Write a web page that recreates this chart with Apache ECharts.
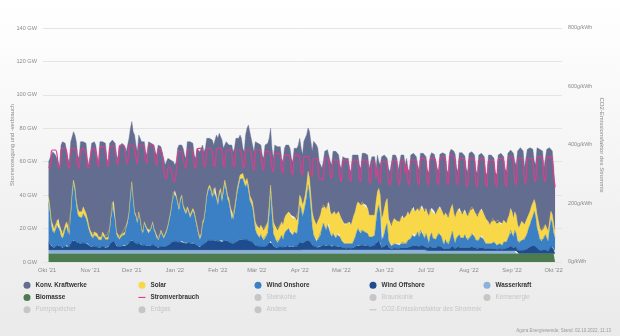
<!DOCTYPE html>
<html><head><meta charset="utf-8">
<script src="https://cdn.jsdelivr.net/npm/echarts@6/dist/echarts.min.js"></script>
<style>
html,body{margin:0;padding:0;}
body{width:620px;height:336px;background:linear-gradient(180deg,#ffffff 0%,#f4f4f4 50%,#eaeaea 100%);overflow:hidden;}
#c{width:620px;height:336px;}
</style>
</head><body><div id="c"></div>
<script>
// daily values (GW), 2 Oct 2021 .. 2 Oct 2022, one row per week (Sat..Fri)
const biomasse = [
5,5,5,5,5,5,5, 5,5,5,5,5,5,5, 5,5,5,5,5,5,5, 5,5,5,5,5,5,5,
5,5,5,5,5,5,5, 5,5,5,5,5,5,5, 5,5,5,5,5,5,5, 5,5,5,5,5,5,5,
5,5,5,5,5,5,5, 5,5,5,5,5,5,5, 5,5,5,5,5,5,5, 5,5,5,5,5,5,5,
5,5,5,5,5,5,5, 5,5,5,5,5,5,5, 5,5,5,5,5,5,5, 5,5,5,5,5,5,5,
5,5,5,5,5,5,5, 5,5,5,5,5,5,5, 5,5,5,5,5,5,5, 5,5,5,5,5,5,5,
5,5,5,5,5,5,5, 5,5,5,5,5,5,5, 5,5,5,5,5,5,5, 5,5,5,5,5,5,5,
5,5,5,5,5,5,5, 5,5,5,5,5,5,5, 5,5,5,5,5,5,5, 5,5,5,5,5,5,5,
5,5,5,5,5,5,5, 5,5,5,5,5,5,5, 5,5,5,5,5,5,5, 5,5,5,5,5,5,5,
5,5,5,5,5,5,5, 5,5,5,5,5,5,5, 5,5,5,5,5,5,5, 5,5,5,5,5,5,5,
5,5,5,5,5,5,5, 5,5,5,5,5,5,5, 5,5,5,5,5,5,5, 5,5,5,5,5,5,5,
5,5,5,5,5,5,5, 5,5,5,5,5,5,5, 5,5,5,5,5,5,5, 5,5,5,5,5,5,5,
5,5,5,5,5,5,5, 5,5,5,5,5,5,5, 5,5,5,5,5,5,5, 5,5,5,5,5,5,5,
5,5,5,5,5,5,5, 5,5,5,5,5,5,5, 5,5,5,5,5,5,5, 5,5,5,5,5,5,5,
5,5
];
const wasserkraft = [
2,2,2,2,2,2,2, 2,2,2,2,2,2,2, 2,2,2,2,2,2,2, 2,2,2,2,2,2,2,
2,2,2,2,2,2,2, 2,2,2,2,2,2,2, 2,2,2,2,2,2,2, 2,2,2,2,2,2,2,
2,2,2,2,2,2,2, 2,2,2,2,2,2,2, 2,2,2,2,2,2,2, 2,2,2,2,2,2,2,
2,2,2,2,2,2,2, 2,2,2,2,2,2,2, 2,2,2,2,2,2,2, 2,2,2,2,2,2,2,
2,2,2,2,2,2,2, 2,2,2,2,2,2,2, 2,2,2,2,2,2,2, 2,2,2,2,2,2,2,
2,2,2,2,2,2,2, 2,2,2,2,2,2,2, 2,2,2,2,2,2,2, 2,2,2,2,2,2,2,
2,2,2,2,2,2,2, 2,2,2,2,2,2,2,
2.2,2.2,2.2,2.2,2.2,2.2,2.2, 2.2,2.2,2.2,2.2,2.2,2.2,2.2, 2.2,2.2,2.2,2.2,2.2,2.2,2.2,
2.2,2.2,2.2,2.2,2.2,2.2,2.2, 2.2,2.2,2.2,2.2,2.2,2.2,2.2, 2.2,2.2,2.2,2.2,2.2,2.2,2.2,
2.2,2.2,2.2,2.2,2.2,2.2,2.2, 2.2,2.2,2.2,2.2,2.2,2.2,2.2, 2.2,2.2,2.2,2.2,2.2,2.2,2.2,
2.2,2.2,2.2,2.2,2.2,2.2,2.2, 2.2,2.2,2.2,2.2,2.2,2.2,2.2, 2.2,2.2,2.2,2.2,2.2,2.2,2.2,
2.2,2.2,2.2,2.2,2.2,2.2,2.2,
1.6,1.6,1.6,1.6,1.6,1.6,1.6, 1.6,1.6,1.6,1.6,1.6,1.6,1.6, 1.6,1.6,1.6,1.6,1.6,1.6,1.6,
1.6,1.6,1.6,1.6,1.6,1.6,1.6, 1.6,1.6,1.6,1.6,1.6,1.6,1.6, 1.6,1.6,1.6,1.6,1.6,1.6,1.6,
1.6,1.6,1.6,1.6,1.6,1.6,1.6, 1.6,1.6,1.6,1.6,1.6,1.6,1.6, 1.6,1.6,1.6,1.6,1.6,1.6,1.6,
1.6,1.6
];
const windOffshore = [
5,4,2.5,2,1.5,2,3,
3,2.5,2,1.5,2,2.5,3,
2,2,4,5.5,6,5.5,5,
4.5,4,4,4,4.5,4,4,
4,3,2.5,2,2,2.5,2,
2,1.5,1.5,2,2.5,2,1.5,
2,2,3,4.5,5.5,5.5,4,
2.5,2,2,2,2.5,3,2.5,
3,3.5,4.5,5.5,6,5.5,4.5,
4,3.5,4.5,4,3,2.5,3.5,
3,2.5,2.5,2.5,3,3.5,3,
2.5,2,1.5,2,2.5,2,2,
2,2.5,3,3.5,4,5,5.5,
5.5,5,5,4.5,5,5.5,4.5,
4.5,4,4.5,4.5,4,4,4.5,
4,3.5,3,2.5,2,2.5,3.5,
3.5,4.5,5.5,6,6,6,5.5,
6,6,5.5,5,5.5,6,5,
5.5,6,6,5.5,5,4.5,4,
4,4.5,5,5.5,6,6.5,6.5,
6.5,6.5,6,6.5,6,5.5,5,
5,4,3,2.5,2.5,2,2.5,
2,2,2,2.5,3,4.5,5.5,
4,2.5,2,1.5,1.5,2,2,
2,1.5,2,2.5,2.5,2.5,2,
2,2,2.5,2.5,2,3.5,5,
4.5,4,4.5,5,5.5,6,5.5,
4.5,3,2,2,1.5,1.5,2,
2,2.5,3,3,2.5,3,3,
2.5,2,2.5,2.5,2,2,2.5,
2,1.5,1.5,1.2,1,1.2,1.2,
1.2,1,1.2,1.5,2,2.5,3,
2.5,2.5,3,3,2.5,2.5,2.5,
2,2,2,2.5,2.5,4,5,
5.5,4.5,1.5,1.5,2,3,3.5,
1.5,1.2,0.8,1,1.2,1.2,1,
1.2,1,1.2,1.5,1.2,1.2,1.2,
1.5,1.5,2,2.5,2.5,2,2.5,
3,2,3,3,2.5,2,2.5,
2,1.5,2.5,3,2,2,2,
2.5,3,3,2.5,1.5,1.2,2,
1.5,1.2,1.5,2,3,2,1.5,
2,2.5,2.5,2,2,2,2.5,
2,1.5,2,2,2.5,2.5,2,
1.5,1.5,1.5,2,2,2,1.5,
1.2,1,1.2,1,1.2,1.5,1.5,
1.2,1,1.2,1.2,1,1,1.5,
1.5,1.5,2,2.5,3,3,2,
3,2.5,2,1.5,2,2,2,
2,2.5,3,3.5,4,4.5,5,
5,4.5,3.5,3,2,2,2,
2,2.5,2,1.5,3,4.5,4,
2.5,2
];
const windOnshore = [
24,19,12.5,9,8.5,10,12,
13,9.5,6.5,5.5,7,10,11,
8,7,16.5,27.5,34,30,22,
17,16,16,15.5,17.5,16.5,15,
12,9.5,7.5,6,5,6.5,6,
6,5,4,4,6.5,5.5,5,
5.5,4.5,8.5,15,22,23,13.5,
7,5.5,4.5,5.5,6,7.5,7,
10.5,13,17.3,26.3,33.8,24.3,17.3,
16,12.5,17.5,14,9,7.5,12.5,
11,9.5,7.5,8.5,10,12.5,9,
7.5,5,4.5,6,8.5,7,5,
7,8.5,11,14.5,18,23,28.5,
29.3,26.8,22.8,19.3,24.8,26.3,21.3,
19,17.5,20,18,15.5,17.5,19,
17.5,14,10.5,7,4.5,6,12,
14,19,26,29.5,31.5,29.5,26,
29,30,25.5,22,27.5,29,24,
29,33.5,29.5,25,23.5,19,14.5,
14.5,18,23.5,29,32.5,36,36,
36.5,33.5,32,33.5,30,24.5,23,
20.5,15,9.5,7.5,6.5,5.5,7,
5,4,6,6,7.5,16.5,28.5,
17,7.5,6,4,3,4,5,
7,5,8,9,10,10.5,9,
9,7,8.5,8,8,12.5,22,
20.5,16,18.5,22,26.5,33,28.5,
20.5,11,7,5,3.5,4.5,6,
7,10.5,13,11,9.5,12,13,
7.5,6,7.5,7.5,5,7,7.5,
5.8,4.3,3.3,2.6,2.3,2.6,2.6,
2.6,1.8,2.6,4.3,5.8,8.3,9.8,
8.3,7.3,8.8,8.8,8.3,8.3,7.3,
5.8,5.8,5.8,6.3,6.3,12.8,18.8,
21.3,17.3,4.3,5.3,7.8,10.8,12.3,
4.3,2.6,1.5,1.8,2.6,2.6,2.3,
2.6,1.8,2.6,3.3,2.6,2.6,2.6,
4.3,4.3,4.8,6.3,7.3,5.8,6.3,
7.8,5.8,8.8,8.8,6.3,4.8,7.3,
5.8,3.3,6.3,7.8,5.8,5.8,4.8,
6.3,7.8,7.8,6.3,4.3,2.6,4.8,
3.3,2.6,4.3,6.8,8.8,5.8,3.3,
5.8,6.3,7.3,5.8,4.8,5.8,7.3,
5.4,4.9,5.4,6.4,7.9,7.9,6.4,
4.9,3.9,4.9,6.4,7.4,5.4,4.9,
3.2,2.4,3.2,2.4,3.2,3.9,3.9,
3.2,2.4,3.2,3.2,2.4,2.4,3.9,
3.9,3.9,5.4,6.9,9.4,8.4,6.4,
9.4,7.9,5.4,4.9,5.4,6.4,6.4,
6.4,7.9,9.4,11.9,13.4,15.9,17.4,
20.4,17.9,11.9,9.4,6.4,5.4,6.4,
7.4,8.9,7.4,5.9,11.4,15.9,14.4,
9.9,7.4
];
const solar = [
3,3,3,3,3,3,3,
3,3,2.5,3,3,2.5,3,
3,3,2.5,2,2,2.5,3,
3.5,3,4,3.5,4,3.5,3,
3,2.5,2,2,2,2,2,
2,1.5,1.5,2,2,1.5,1.5,
1.5,1.5,1.5,1.5,1.5,1.5,1.5,
1.5,1.5,1.5,1.5,1.5,1.5,1.5,
1.5,1.5,1.2,1.2,1.2,1.2,1.2,
1,1,1,1,1,1,1,
1,1,1,1,1,1,1,
1,1,1,1,1,1,1,
1,1,1,1,1,1,1,
1.2,1.2,1.2,1.2,1.2,1.2,1.2,
1.5,1.5,1.5,1.5,1.5,1.5,1.5,
1.5,1.5,1.5,1.5,1.5,1.5,1.5,
1.5,1.5,1.5,1.5,1.5,1.5,1.5,
2,2,2,2,2,2,2,
2.5,2.5,2.5,2.5,2.5,2.5,2.5,
2.5,2.5,2.5,2.5,2.5,2.5,2.5,
3,3,3,3,3,3,3,
3.5,4,4.5,5,5,5.5,5.5,
6,6,6,6.5,6.5,6,5,
6,7,7,7.5,7.5,8,8,
8,8.5,9,9.5,9.5,10,10,
10,10,9,8.5,8,7,6,
6,7,6,6,7,8,9,
8,9,10,10,10,11,11,
12,12,11,12,12,13,13,
13,13,12,13,14,13,13,
13,13,12,12,11.5,12,13,
13,12,14,15,15,16,16,
17,17,17,16,15,16,15,
13,12,13,13,12,12,11,
10,11,13,14,15,15,15,
13,11,12,14,15,14,14,
14,14,16,16,15,16,17,
17,15,16,16,16,15,15,
14,15,14,15,15,16,15,
15,16,16,15,15,16,15,
15,15,16,16,17,17,16,
16,16,17,17,16,15,15,
15,16,16,15,15,16,15,
15,14,16,16,16,15,15,
15,15,16,16,16,16,15,
15,15,13,12,13,14,13,
13,13,14,13,12,13,13,
12,11,12,12,13,12,11,
11,11,10,9,10,11,10,
9,9,9,8,8,8,8,
7,7,8,7,7,6,7,
6,6,6,6,5,5,5,
5,4
];
const konvKraftwerke = [
21,26,39,45,45,42,38,
34,35,52,55,53,49,46,
42,41,42,33,29,31,35,
32,32,41,43,39,42,42,
36,36,44,54,56,54,53,
47,45,58,58,54,56,56,
46,45,51,44,37,36,45,
46,46,54,54,54,52,51,
44,40,44,40,36,40,46,
42,42,46,48,52,54,48,
44,44,54,53,50,48,50,
48,49,56,54,50,51,47,
41,39,40,36,31,24,18,
15,20,32,38,32,30,34,
32,32,39,42,44,43,39,
34,36,46,50,51,51,46,
40,36,34,31,28,30,33,
26,25,36,38,35,32,35,
24,19,27,32,32,37,42,
38,36,36,31,26,24,22,
15,16,28,30,36,38,36,
34,36,48,50,50,52,48,
44,43,49,48,47,40,34,
34,38,48,50,50,49,47,
38,38,42,42,41,40,40,
34,34,41,42,43,40,34,
30,30,36,34,30,26,28,
32,36,46,48,48,44,34,
30,24,26,33,35,32,30,
30,30,37,36,38,37,34,
30,30,39,40,40,40,38,
32,32,39,36,34,31,28,
23,22,29,31,32,31,32,
28,28,35,34,35,20,22,
16,18,37,36,32,28,24,
30,32,33.5,40,38,39,37.5,
30,30,37,36,38,31,34,
26,26,34,33,32,35,32,
26,25,32,32,34,34,31,
26,26,32,33,36,34,35,
26,22,31,34,36,38,35,
28,27,36,35,34,37,38,
27,23,33,36,37,35,32,
27,27,35,35,33,34,34,
27,26,35,34,33,35,35,
28,27,40,42,40,38,37,
30,29,39,41,43,42,38,
32,31,39,38,35,37,39,
30,30,44,47,46,43,43,
34,31,41,40,38,35,32,
23,24,40,44,47,49,46,
36,33,47,50,44,38,38,
34,26
];
const stromverbrauch = [
57,56,66,67,67,67,65,
58,56,67,68,68,68,66,
58,56,67,68,68,68,66,
58,56,66,67,68,67,65,
58,56,62,67,68,68,66,
60,57,68,69,69,69,67,
60,57,68,69,69,69,67,
61,58,69,70,70,70,68,
61,59,69,70,70,70,68,
62,59,70,70,70,70,68,
61,59,70,70,70,70,68,
60,58,68,68,67,64,56,
50,50,56,57,56,53,49,
48,54,64,66,66,66,62,
58,56,67,67,67,67,65,
58,56,67,68,68,68,66,
58,57,67,68,68,68,66,
58,57,67,68,68,68,66,
58,57,67,67,67,67,65,
58,57,67,67,67,67,65,
58,56,67,67,67,67,65,
58,55,66,67,67,67,65,
57,55,66,66,66,66,64,
56,54,65,65,65,65,63,
55,53,64,64,64,64,62,
54,52,63,64,64,64,62,
54,52,63,63,63,63,61,
53,51,62,62,62,60,50,
50,49,50,61,62,62,60,
52,50,61,61,61,61,59,
51,48,61,61,61,61,59,
50,48,61,61,61,61,59,
50,48,61,61,61,61,59,
49,47,60,60,60,50,57,
48,47,60,60,60,60,58,
48,46,50,61,61,61,59,
48,46,61,61,61,53,58,
48,46,61,61,61,61,59,
48,46,61,62,62,62,60,
48,46,62,62,62,62,60,
48,46,62,62,63,63,61,
48,46,63,64,64,63,61,
48,46,62,62,62,62,60,
47,45,61,62,62,62,60,
47,45,61,61,62,62,60,
47,45,61,61,61,61,59,
47,45,61,62,62,62,60,
47,45,62,62,63,63,61,
48,46,61,62,62,62,60,
49,47,62,62,62,62,60,
50,48,62,63,63,63,61,
50,48,63,63,63,63,61,
51,45
];
const gwTicks = [0, 20, 40, 60, 80, 100, 120, 140];
const co2Ticks = [0, 200, 400, 600, 800];
const monthNames = ['Jan','Feb','Mär','Apr','Mai','Jun','Jul','Aug','Sep','Okt','Nov','Dez'];

// category axis: one entry per day, 28 Sep 2021 .. 7 Oct 2022
const startUTC = Date.UTC(2021, 8, 28);
const categories = [];
for (let i = 0; i < 375; i++) {
  categories.push(new Date(startUTC + i * 86400000).toISOString().slice(0, 10));
}
const lead = 4; // days before first value (28 Sep .. 1 Oct)
function pad(arr) {
  const out = [];
  for (let i = 0; i < categories.length; i++) {
    const j = i - lead;
    out.push(j >= 0 && j < arr.length ? arr[j] : null);
  }
  return out;
}

const F = "'Liberation Sans', Arial, Helvetica, sans-serif";
const PINK = '#d93f8e';
function area(name, data, color) {
  return {
    name, type: 'line', stack: 'gen', data: pad(data),
    symbol: 'none', showSymbol: false, silent: true,
    lineStyle: { width: 0.4, color }, areaStyle: { color, opacity: 1 },
    itemStyle: { color }, emphasis: { disabled: true }
  };
}
function ghost(name, color) {
  return { name, type: 'line', data: [], itemStyle: { color }, lineStyle: { color } };
}

const series = [
  area('Biomasse', biomasse, '#4d7b50'),
  area('Wasserkraft', wasserkraft, '#8cb2dc'),
  area('Wind Offshore', windOffshore, '#1f4c8c'),
  area('Wind Onshore', windOnshore, '#3b80c4'),
  area('Solar', solar, '#f8d748'),
  area('Konv. Kraftwerke', konvKraftwerke, '#636d90'),
  {
    name: 'Stromverbrauch', type: 'line', data: pad(stromverbrauch),
    symbol: 'none', showSymbol: false, smooth: 0.3, silent: true,
    lineStyle: { width: 1.2, color: PINK }, itemStyle: { color: PINK }, z: 5
  },
  ghost('Steinkohle', '#999'), ghost('Braunkohle', '#999'), ghost('Kernenergie', '#999'),
  ghost('Pumpspeicher', '#999'), ghost('Erdgas', '#999'), ghost('Andere', '#999'),
  { name: 'CO2-Emissionsfaktor des Strommix', type: 'line', yAxisIndex: 1, data: [], itemStyle: { color: '#999' } }
];

const lineIcon = 'path://M0,0H10V1.6H0Z';
const inactive = ['Steinkohle','Braunkohle','Kernenergie','Pumpspeicher','Erdgas','Andere','CO2-Emissionsfaktor des Strommix'];
const lineItems = ['Stromverbrauch', 'CO2-Emissionsfaktor des Strommix'];
const columns = [
  ['Konv. Kraftwerke', 'Biomasse', 'Pumpspeicher'],
  ['Solar', 'Stromverbrauch', 'Erdgas'],
  ['Wind Onshore', 'Steinkohle', 'Andere'],
  ['Wind Offshore', 'Braunkohle', 'CO2-Emissionsfaktor des Strommix'],
  ['Wasserkraft', 'Kernenergie']
];
const colLeft = [23.5, 138.5, 254.5, 369.5, 483.5];
const legends = columns.map((col, k) => {
  const selected = {};
  col.forEach(n => { if (inactive.includes(n)) selected[n] = false; });
  return {
    orient: 'vertical', left: colLeft[k], top: 279, padding: 0, itemGap: 0,
    itemWidth: 7, itemHeight: 7, inactiveColor: '#c6c6c6', selected,
    textStyle: { fontSize: 6.3, fontWeight: 'bold', color: '#333', lineHeight: 12.3, fontFamily: F },
    data: col.map(n => {
      const item = { name: n, icon: lineItems.includes(n) ? lineIcon : 'circle' };
      if (inactive.includes(n)) item.textStyle = { fontWeight: 'normal' };
      if (n === 'Stromverbrauch') item.itemStyle = { color: PINK };
      return item;
    })
  };
});

const chart = echarts.init(document.getElementById('c'), null, { renderer: 'canvas' });
chart.setOption({
  animation: false,
  backgroundColor: 'transparent',
  textStyle: { fontFamily: F },
  grid: { left: 43, right: 58, top: 28, bottom: 74, containLabel: false, outerBoundsMode: 'none' },
  legend: legends,
  xAxis: {
    type: 'category', data: categories, boundaryGap: false,
    axisLine: { show: false }, axisTick: { show: false }, splitLine: { show: false },
    axisLabel: {
      fontSize: 5.8, color: '#8a8a8a', margin: 5, fontFamily: F,
      interval: (idx, val) => val.slice(8) === '01',
      formatter: v => monthNames[parseInt(v.slice(5, 7), 10) - 1] + " '" + v.slice(2, 4)
    }
  },
  yAxis: [
    {
      type: 'value', min: gwTicks[0], max: gwTicks[gwTicks.length - 1], interval: 20,
      axisLine: { show: false }, axisTick: { show: false },
      splitLine: { lineStyle: { color: '#e4e4e4', width: 1 } },
      axisLabel: { fontSize: 5.6, color: '#8a8a8a', margin: 6, formatter: '{value} GW', fontFamily: F },
      name: 'Stromerzeugung und -verbrauch', nameLocation: 'middle', nameGap: 28, nameRotate: 90,
      nameMoveOverlap: false,
      nameTextStyle: { fontSize: 5.7, color: '#8a8a8a', fontFamily: F }
    },
    {
      type: 'value', position: 'right', min: co2Ticks[0], max: co2Ticks[co2Ticks.length - 1], interval: 200,
      axisLine: { show: false }, axisTick: { show: false }, splitLine: { show: false },
      axisLabel: { fontSize: 5.4, color: '#8a8a8a', margin: 6, formatter: '{value}g/kWh', fontFamily: F },
      name: 'CO2-Emissionsfaktor des Strommix', nameLocation: 'middle', nameGap: 37, nameRotate: -90,
      nameMoveOverlap: false,
      nameTextStyle: { fontSize: 6, color: '#8a8a8a', fontFamily: F }
    }
  ],
  graphic: [{
    type: 'text', right: 9, top: 328, silent: true,
    style: { text: 'Agora Energiewende; Stand: 02.10.2022, 11:13', fontSize: 4.5, fill: '#9a9a9a', fontFamily: F }
  }],
  series
});
</script>
</body></html>
